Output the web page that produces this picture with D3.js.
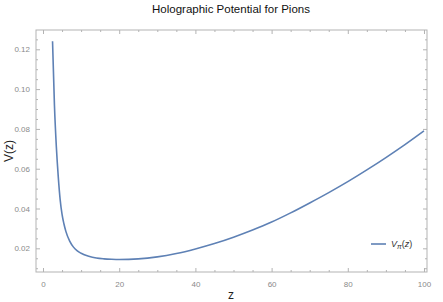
<!DOCTYPE html>
<html>
<head>
<meta charset="utf-8">
<script src="https://cdn.jsdelivr.net/npm/d3@7"></script>
<style>
  body { margin: 0; background: #fff; }
  svg { display: block; font-family: "Liberation Sans", Arial, sans-serif; }
</style>
</head>
<body>
<div id="chart"></div>
<script>
// values
let zValues = [2.5, 3, 3.5, 4, 4.5, 5, 5.5, 6, 7, 8, 9, 10, 12, 14, 16, 18, 20, 25, 30, 35, 40, 45, 50, 55, 60, 65, 70, 75, 80, 85, 90, 95, 100]
let vValues = [0.124, 0.092, 0.071, 0.056, 0.0445, 0.037, 0.0322, 0.0285, 0.0236, 0.0206, 0.0187, 0.0175, 0.016, 0.0151, 0.0147, 0.0145, 0.0144, 0.0147, 0.0157, 0.0174, 0.0197, 0.0224, 0.0256, 0.0292, 0.0332, 0.0378, 0.0428, 0.048, 0.0535, 0.0594, 0.0656, 0.0721, 0.079]

let xTicks = [0, 20, 40, 60, 80, 100]
let yTicks = [0.02, 0.04, 0.06, 0.08, 0.10, 0.12]

let width = 443
let height = 302
let margin = { top: 30, right: 16, bottom: 30, left: 36 }
let plotWidth = width - margin.left - margin.right
let plotHeight = height - margin.top - margin.bottom

let svg = d3.select('#chart')
  .append('svg')
    .attr('width', width)
    .attr('height', height)

let plot = svg.append('g')
  .attr('transform', `translate(${margin.left}, ${margin.top})`)

let xScale = d3.scaleLinear().domain([-1.84, 100.79]).range([0, plotWidth])
let yScale = d3.scaleLinear().domain([0.0081, 0.1297]).range([plotHeight, 0])

let data = zValues.map((z, i) => { return { z: z, v: vValues[i] } })

// minor ticks every 5 on x, every 0.005 on y
let xMinor = d3.range(0, 101, 5).filter((d) => { return xTicks.indexOf(d) === -1 })
let yMinor = d3.range(0.01, 0.13, 0.005).filter((d) => { return yTicks.every((t) => Math.abs(t - d) > 1e-6) })

let frameColor = '#b3b3b3'
let labelColor = '#8a8a8a'

function addAxis(axis, transform, showLabels) {
  let g = plot.append('g')
    .attr('transform', transform)
    .call(axis)
  g.select('.domain').remove()
  g.selectAll('line').attr('stroke', frameColor)
  g.selectAll('text')
    .attr('fill', labelColor)
    .attr('font-size', 8)
    .style('display', showLabels ? null : 'none')
  return g
}

// Bottom axis (ticks point inward)
addAxis(d3.axisBottom(xScale).tickValues(xTicks).tickFormat(d3.format('d')).tickSizeInner(-4).tickSizeOuter(0).tickPadding(9),
  `translate(0, ${plotHeight})`, true)
addAxis(d3.axisBottom(xScale).tickValues(xMinor).tickFormat('').tickSizeInner(-2).tickSizeOuter(0),
  `translate(0, ${plotHeight})`, false)
// Top axis
addAxis(d3.axisTop(xScale).tickValues(xTicks).tickFormat('').tickSizeInner(-4).tickSizeOuter(0), 'translate(0, 0)', false)
addAxis(d3.axisTop(xScale).tickValues(xMinor).tickFormat('').tickSizeInner(-2).tickSizeOuter(0), 'translate(0, 0)', false)

// Left axis
addAxis(d3.axisLeft(yScale).tickValues(yTicks).tickFormat(d3.format('.2f')).tickSizeInner(-4).tickSizeOuter(0).tickPadding(6),
  'translate(0, 0)', true)
addAxis(d3.axisLeft(yScale).tickValues(yMinor).tickFormat('').tickSizeInner(-2).tickSizeOuter(0), 'translate(0, 0)', false)
// Right axis
addAxis(d3.axisRight(yScale).tickValues(yTicks).tickFormat('').tickSizeInner(-4).tickSizeOuter(0), `translate(${plotWidth}, 0)`, false)
addAxis(d3.axisRight(yScale).tickValues(yMinor).tickFormat('').tickSizeInner(-2).tickSizeOuter(0), `translate(${plotWidth}, 0)`, false)

// Frame
plot.append('rect')
  .attr('x', 0)
  .attr('y', 0)
  .attr('width', plotWidth)
  .attr('height', plotHeight)
  .attr('fill', 'none')
  .attr('stroke', frameColor)
  .attr('stroke-width', 1)

// The curve
let line = d3.line()
  .x((d) => { return xScale(d.z) })
  .y((d) => { return yScale(d.v) })
  .curve(d3.curveMonotoneX)

plot.append('path')
  .datum(data)
  .attr('d', line)
  .attr('fill', 'none')
  .attr('stroke', '#5e81b5')
  .attr('stroke-width', 1.6)

// Legend
let legend = svg.append('g').attr('transform', 'translate(371, 244)')
legend.append('line')
  .attr('x1', 0).attr('x2', 15)
  .attr('y1', 0).attr('y2', 0)
  .attr('stroke', '#5e81b5')
  .attr('stroke-width', 1.6)
let legendText = legend.append('text')
  .attr('x', 20)
  .attr('y', 3)
  .attr('font-size', 9)
  .attr('fill', '#333')
legendText.append('tspan').attr('font-style', 'italic').text('V')
legendText.append('tspan').attr('font-style', 'italic').attr('font-size', 7).attr('dy', 1.5).text('π')
legendText.append('tspan').attr('dy', -1.5).text('(')
legendText.append('tspan').attr('font-style', 'italic').text('z')
legendText.append('tspan').text(')')

// Title and axis labels
svg.append('text')
  .attr('x', 231)
  .attr('y', 13)
  .attr('text-anchor', 'middle')
  .attr('font-size', 11.5)
  .attr('fill', '#111')
  .text('Holographic Potential for Pions')

svg.append('text')
  .attr('x', 231)
  .attr('y', 299)
  .attr('text-anchor', 'middle')
  .attr('font-size', 12)
  .attr('fill', '#222')
  .text('z')

svg.append('text')
  .attr('transform', 'translate(13, 151) rotate(-90)')
  .attr('text-anchor', 'middle')
  .attr('font-size', 12)
  .attr('fill', '#222')
  .text('V(z)')
</script>
</body>
</html>
